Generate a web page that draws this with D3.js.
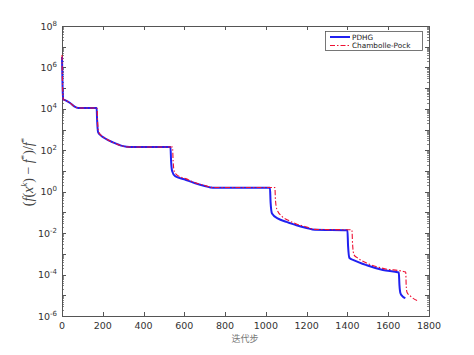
<!DOCTYPE html>
<html><head><meta charset="utf-8">
<script src="https://cdn.jsdelivr.net/npm/d3@7"></script>
<style>body{margin:0;background:#fff}svg{display:block}</style>
</head><body><svg id="c" width="474" height="355"></svg>
<script>
// iteration index and log10 of relative error
const pdhgIter = [0,3,6,15,40,60,80,170,172,177,190,210,250,300,330,532,535,540,555,600,650,700,740,1020,1023,1030,1060,1100,1150,1200,1240,1400,1403,1410,1430,1495,1574,1652,1655,1660,1670,1684];
const pdhgLog  = [6.5,5.0,4.45,4.42,4.28,4.12,4.04,4.04,3.5,2.88,2.72,2.58,2.38,2.2,2.16,2.16,1.5,1.0,0.75,0.6,0.42,0.28,0.19,0.19,-0.5,-1.05,-1.3,-1.45,-1.62,-1.75,-1.84,-1.86,-2.6,-3.2,-3.3,-3.55,-3.78,-3.9,-4.5,-4.9,-5.05,-5.14];
const cpIter = [0,3,6,15,40,60,80,172,174,179,192,212,250,300,330,542,545,550,565,610,650,700,740,1044,1047,1054,1080,1110,1150,1200,1240,1422,1425,1432,1450,1495,1574,1686,1688,1692,1710,1745];
const cpLog  = [6.6,5.0,4.45,4.42,4.28,4.12,4.04,4.04,3.5,2.9,2.72,2.58,2.38,2.2,2.16,2.16,1.5,1.0,0.8,0.62,0.44,0.3,0.2,0.2,-0.4,-0.85,-1.2,-1.38,-1.56,-1.7,-1.82,-1.84,-2.5,-3.05,-3.2,-3.45,-3.7,-3.88,-4.5,-4.85,-5.05,-5.27];
const seriesNames = ["PDHG","Chambolle-Pock"];
const xTicks = [0,200,400,600,800,1000,1200,1400,1600,1800];
const yTickExp = [-6,-4,-2,0,2,4,6,8];

const svg = d3.select("#c");
const L=62,R=429,T=26,B=316;
const x = d3.scaleLinear().domain([0,1800]).range([L,R]);
const y = d3.scaleLog().domain([1e-6,1e8]).range([B,T]);
const axisCol="#555", txtCol="#333";

svg.append("rect").attr("x",L+0.5).attr("y",T+0.5).attr("width",R-L).attr("height",B-T)
  .attr("fill","none").attr("stroke",axisCol).attr("stroke-width",1);

xTicks.forEach(v=>{
  const px=Math.round(x(v))+0.5;
  svg.append("line").attr("x1",px).attr("x2",px).attr("y1",B).attr("y2",B-4).attr("stroke",axisCol);
  svg.append("line").attr("x1",px).attr("x2",px).attr("y1",T).attr("y2",T+4).attr("stroke",axisCol);
  svg.append("text").attr("x",x(v)).attr("y",329).attr("text-anchor","middle")
    .attr("font-family","DejaVu Sans").attr("font-size",9.5).attr("fill",txtCol).text(v);
});
for(let e=-6;e<=8;e++){
  const py=Math.round(y(Math.pow(10,e)))+0.5;
  svg.append("line").attr("x1",L).attr("x2",L+4).attr("y1",py).attr("y2",py).attr("stroke",axisCol);
  svg.append("line").attr("x1",R).attr("x2",R-4).attr("y1",py).attr("y2",py).attr("stroke",axisCol);
  if(e<8){
    for(let m=2;m<=9;m++){
      const pm=Math.round(y(m*Math.pow(10,e)))+0.5;
      svg.append("line").attr("x1",L).attr("x2",L+2).attr("y1",pm).attr("y2",pm).attr("stroke",axisCol).attr("stroke-width",0.7);
      svg.append("line").attr("x1",R).attr("x2",R-2).attr("y1",pm).attr("y2",pm).attr("stroke",axisCol).attr("stroke-width",0.7);
    }
  }
}
yTickExp.forEach(e=>{
  const t=svg.append("text").attr("x",57).attr("y",y(Math.pow(10,e))+3.5).attr("text-anchor","end")
    .attr("font-family","DejaVu Sans").attr("font-size",9.5).attr("fill",txtCol);
  t.append("tspan").text("10");
  t.append("tspan").attr("dy",-4).attr("font-size",7).text(e);
});

const line = d3.line().x(d=>x(d[0])).y(d=>y(Math.pow(10,d[1]))).curve(d3.curveMonotoneX);
const pd = pdhgIter.map((v,i)=>[v,pdhgLog[i]]);
const cp = cpIter.map((v,i)=>[v,cpLog[i]]);
svg.append("path").attr("d",line(pd)).attr("fill","none").attr("stroke","#2020f0").attr("stroke-width",2);
svg.append("path").attr("d",line(cp)).attr("fill","none").attr("stroke","#ee1133").attr("stroke-width",1.1)
  .attr("stroke-dasharray","5,2,1.5,2");

// legend
svg.append("rect").attr("x",325.5).attr("y",31.5).attr("width",97).attr("height",19)
  .attr("fill","#fff").attr("stroke",axisCol).attr("stroke-width",0.8);
svg.append("line").attr("x1",330).attr("x2",350).attr("y1",37).attr("y2",37).attr("stroke","#2020f0").attr("stroke-width",2);
svg.append("line").attr("x1",330).attr("x2",350).attr("y1",45.5).attr("y2",45.5).attr("stroke","#ee1133").attr("stroke-width",1.1).attr("stroke-dasharray","5,2,1.5,2");
svg.append("text").attr("x",352).attr("y",39.6).attr("font-family","DejaVu Sans").attr("font-size",7.3).attr("fill","#222").text(seriesNames[0]);
svg.append("text").attr("x",352).attr("y",48.1).attr("font-family","DejaVu Sans").attr("font-size",7.3).attr("fill","#222").text(seriesNames[1]);

svg.append("text").attr("x",245).attr("y",342).attr("text-anchor","middle")
  .attr("font-family","Noto Sans CJK SC").attr("font-size",9).attr("fill","#777").text("迭代步");

const yt = svg.append("text").attr("transform","translate(33,172) rotate(-90)").attr("text-anchor","middle")
  .attr("font-family","Liberation Serif").attr("font-size",14).attr("fill","#444");
yt.append("tspan").text("(");
yt.append("tspan").attr("font-style","italic").text("f");
yt.append("tspan").text("(");
yt.append("tspan").attr("font-style","italic").text("x");
yt.append("tspan").attr("font-style","italic").attr("font-size",9).attr("dy",-6).text("k");
yt.append("tspan").attr("dy",6).text(") − ");
yt.append("tspan").attr("font-style","italic").text("f");
yt.append("tspan").attr("font-size",9).attr("dy",-6).text("*");
yt.append("tspan").attr("dy",6).text(")/");
yt.append("tspan").attr("font-style","italic").text("f");
yt.append("tspan").attr("font-size",9).attr("dy",-6).text("*");
</script></body></html>
